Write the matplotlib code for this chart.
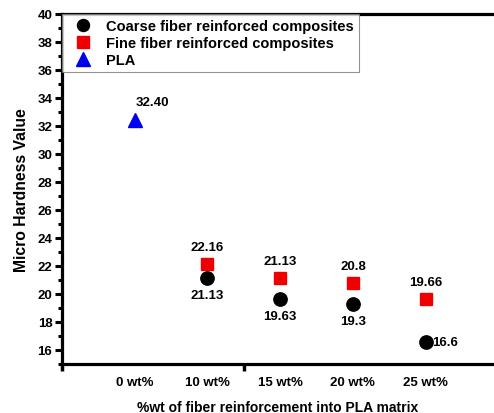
import numpy as np
import matplotlib
matplotlib.use("Agg")
from matplotlib import pyplot as plt
from matplotlib.ticker import MultipleLocator

plt.rcParams['font.family'] = ['Liberation Sans', 'DejaVu Sans']
plt.rcParams['font.weight'] = 'bold'

categories = ['0 wt%', '10 wt%', '15 wt%', '20 wt%', '25 wt%']
pla = [32.40]
pla_labels = ['32.40']
coarse = [21.13, 19.63, 19.3, 16.6]
coarse_labels = ['21.13', '19.63', '19.3', '16.6']
fine = [22.16, 21.13, 20.8, 19.66]
fine_labels = ['22.16', '21.13', '20.8', '19.66']

x_cat = np.arange(1, len(categories) + 1)
x_pla = x_cat[:1]
x_fib = x_cat[1:]

fig = plt.figure(figsize=(4.94, 4.14), dpi=100)
ax = fig.add_axes([0.1255, 0.1184, 0.8745, 0.8454])

ax.plot(x_fib, coarse, 'o', color='black', ms=9.6, label='Coarse fiber reinforced composites')
ax.plot(x_fib, fine, 's', color='#ee0000', ms=8.8, label='Fine fiber reinforced composites')
ax.plot(x_pla, pla, '^', color='#0000ee', ms=10.5, label='PLA')

fs = 9.5
ax.annotate(pla_labels[0], (x_pla[0], pla[0]), xytext=(1, 9), textcoords='offset points',
            fontsize=fs, fontweight='bold', ha='left', va='bottom')
for i, (x, v) in enumerate(zip(x_fib, fine)):
    ax.annotate(fine_labels[i], (x, v), xytext=(0, 8), textcoords='offset points',
                fontsize=fs, fontweight='bold', ha='center', va='bottom')
for i, (x, v) in enumerate(zip(x_fib, coarse)):
    if i == len(coarse) - 1:
        ax.annotate(coarse_labels[i], (x, v), xytext=(5, 0), textcoords='offset points',
                    fontsize=fs, fontweight='bold', ha='left', va='center')
    else:
        ax.annotate(coarse_labels[i], (x, v), xytext=(0, -8), textcoords='offset points',
                    fontsize=fs, fontweight='bold', ha='center', va='top')

ax.set_xlim(0, 5.94)
ax.set_ylim(15, 40)
ax.yaxis.set_minor_locator(MultipleLocator(1))
ax.set_yticks(np.arange(16, 41, 2))

ax.set_xticks(x_cat)
ax.set_xticklabels(categories)
ax.set_xticks([0, 2.5, 5], minor=True)
ax.tick_params(axis='x', which='major', length=0, pad=9, labelsize=fs)
ax.tick_params(axis='x', which='minor', length=5, width=2.5, direction='out')
ax.tick_params(axis='y', which='major', length=5, width=2.2, direction='out', pad=2, labelsize=fs)
ax.tick_params(axis='y', which='minor', length=3, width=2.2, direction='out')

for s in ['left', 'bottom', 'top']:
    ax.spines[s].set_linewidth(2.3)
ax.spines['right'].set_visible(False)

ax.set_ylabel('Micro Hardness Value', fontsize=11.3, fontweight='bold', labelpad=6)
ax.set_xlabel('%wt of fiber reinforcement into PLA matrix', fontsize=10, fontweight='bold', labelpad=8)

leg = ax.legend(loc='upper left', bbox_to_anchor=(0, 1), borderaxespad=0, fontsize=10.5,
                frameon=True, fancybox=False, handletextpad=0.5, borderpad=0.35,
                labelspacing=0.2, handlelength=2.2, markerscale=0.9)
leg.get_frame().set_edgecolor('#777777')
leg.get_frame().set_linewidth(0.8)
for t in leg.get_texts():
    t.set_fontweight('bold')

fig.savefig('out.png', dpi=100)
